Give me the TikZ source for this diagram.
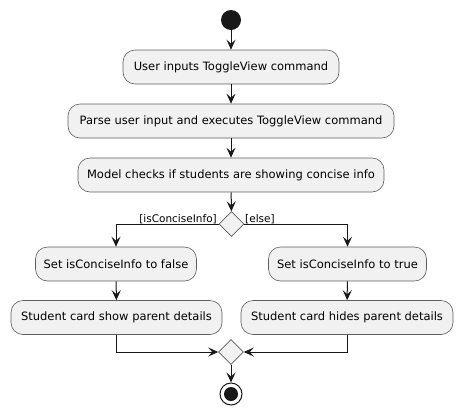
\documentclass[tikz,border=0pt]{standalone}
\usepackage{fontspec}
\setmainfont{DejaVu Sans}
\usetikzlibrary{arrows.meta,shapes.geometric}
\definecolor{boxfill}{HTML}{F1F1F1}
\definecolor{boxline}{HTML}{181818}
\tikzset{
  act/.style={draw=boxline!70, fill=boxfill, rounded corners=12pt, line width=0.6pt,
    minimum height=34pt, inner xsep=2pt, font=\fontsize{11.5}{14}\selectfont, anchor=center},
  dec/.style={draw=boxline!70, fill=boxfill, diamond, minimum width=25pt, minimum height=25pt, inner sep=0pt, line width=0.6pt},
  flow/.style={draw=boxline, line width=1pt, -{Stealth[length=10pt,width=9pt,inset=4pt]}},
  guard/.style={font=\fontsize{10.5}{12}\selectfont, inner sep=1pt}
}
\begin{document}
\begin{tikzpicture}[x=1pt,y=-1pt]
\useasboundingbox (0,0) rectangle (463,416);
\node[circle, fill=boxline, minimum size=20pt, inner sep=0pt] (start) at (231,20) {};
\node[act, minimum width=216pt] (a1) at (231,67) {User inputs ToggleView command};
\node[act, minimum width=326pt] (a2) at (231,121) {Parse user input and executes ToggleView command};
\node[act, minimum width=306pt] (a3) at (231,175) {Model checks if students are showing concise info};
\node[dec] (d1) at (231.5,224) {};
\node[act, minimum width=161pt] (l1) at (116,264) {Set isConciseInfo to false};
\node[act, minimum width=158pt] (r1) at (347.5,264) {Set isConciseInfo to true};
\node[act, minimum width=211pt] (l2) at (116.5,317.5) {Student card show parent details};
\node[act, minimum width=212pt] (r2) at (347,317.5) {Student card hides parent details};
\node[dec] (d2) at (231,352) {};
\node[circle, draw=boxline, line width=1pt, fill=white, minimum size=22pt, inner sep=0pt] (stop) at (231,394) {};
\node[circle, fill=boxline, minimum size=14pt, inner sep=0pt] at (stop) {};
\node[guard, anchor=south east] (g1) at (218,225) {[isConciseInfo]};
\node[guard, anchor=south west] (g2) at (244,225) {[else]};
\draw[flow] (start) -- (a1);
\draw[flow] (a1) -- (a2);
\draw[flow] (a2) -- (a3);
\draw[flow] (a3) -- (d1);
\draw[flow] (d1.west) -| (l1.north);
\draw[flow] (d1.east) -| (r1.north);
\draw[flow] (l1) -- (l2);
\draw[flow] (r1) -- (r2);
\draw[flow] (l2.south) |- (d2.west);
\draw[flow] (r2.south) |- (d2.east);
\draw[flow] (d2) -- (stop);
\end{tikzpicture}
\end{document}
